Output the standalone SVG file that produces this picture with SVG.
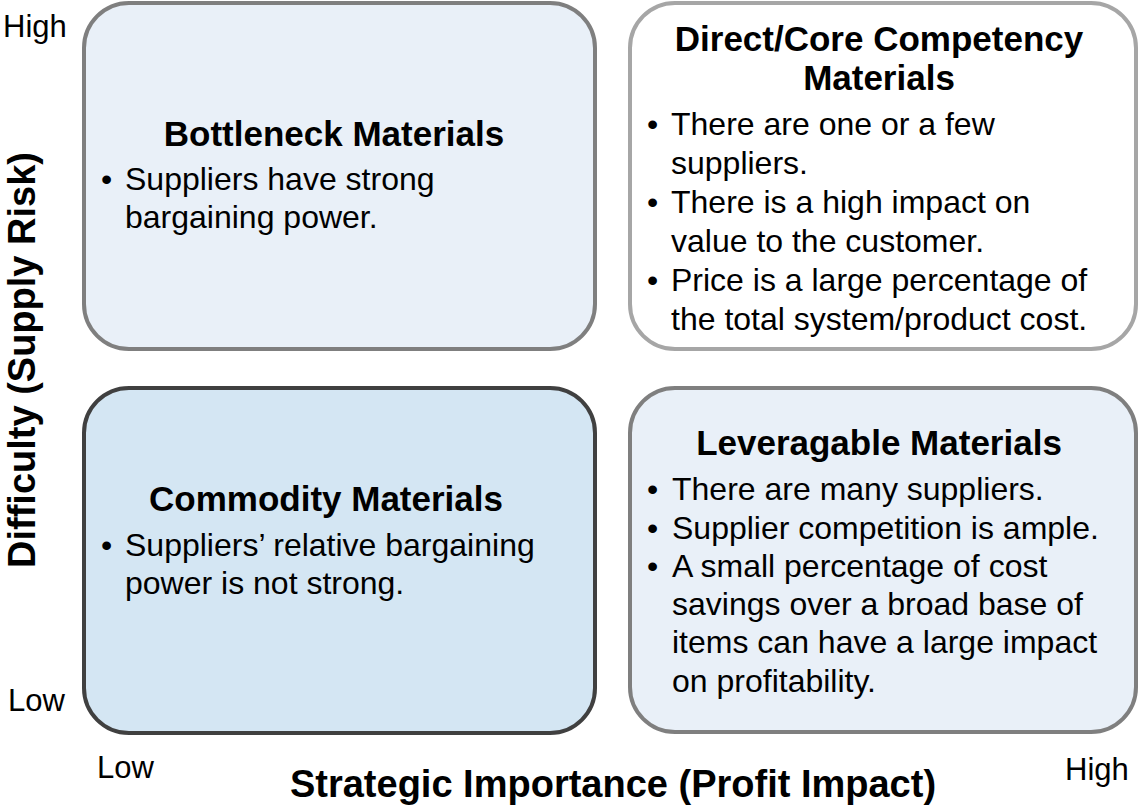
<svg xmlns="http://www.w3.org/2000/svg" width="1138" height="806" viewBox="0 0 1138 806">
<style>
text{font-family:"Liberation Sans",Arial,sans-serif;fill:#000}
.t{font-size:35px;font-weight:bold;text-anchor:middle}
.b{font-size:32px}
.ax{font-size:38px;font-weight:bold;text-anchor:middle}
.tick{font-size:31px}
.box{stroke-width:4}
</style>
<rect width="1138" height="806" fill="#fff"/>
<g id="axes">
<text class="ax" transform="translate(35,360) rotate(-90)">Difficulty (Supply Risk)</text>
<text class="ax" x="613" y="797">Strategic Importance (Profit Impact)</text>
<text class="tick" x="3" y="37">High</text>
<text class="tick" x="8" y="711">Low</text>
<text class="tick" x="97" y="778">Low</text>
<text class="tick" x="1065" y="780">High</text>
</g>
<g id="bottleneck">
<rect class="box" x="84" y="3" width="511" height="346" rx="45" fill="#e9f0f8" stroke="#7f7f7f"/>
<text class="t" x="334" y="146">Bottleneck Materials</text>
<text class="b" x="101" y="190">•</text>
<text class="b" x="125" y="190">Suppliers have strong<tspan x="125" dy="38">bargaining power.</tspan></text>
</g>
<g id="direct">
<rect class="box" x="630" y="3" width="506" height="346" rx="45" fill="#fff" stroke="#a6a6a6"/>
<text class="t" x="879" y="51">Direct/Core Competency<tspan x="879" dy="39">Materials</tspan></text>
<text class="b" x="647" y="135">•</text>
<text class="b" x="647" y="213">•</text>
<text class="b" x="647" y="291">•</text>
<text class="b" x="671" y="135">There are one or a few<tspan x="671" dy="39">suppliers.</tspan><tspan x="671" dy="39">There is a high impact on</tspan><tspan x="671" dy="39">value to the customer.</tspan><tspan x="671" dy="39">Price is a large percentage of</tspan><tspan x="671" dy="39">the total system/product cost.</tspan></text>
</g>
<g id="commodity">
<rect class="box" x="84" y="388" width="511" height="345" rx="45" fill="#d4e6f3" stroke="#404040"/>
<text class="t" x="326" y="511">Commodity Materials</text>
<text class="b" x="101" y="556">•</text>
<text class="b" x="125" y="556">Suppliers’ relative bargaining<tspan x="125" dy="38">power is not strong.</tspan></text>
</g>
<g id="leveragable">
<rect class="box" x="630" y="388" width="506" height="344" rx="45" fill="#e9f0f8" stroke="#7f7f7f"/>
<text class="t" x="879" y="455">Leveragable Materials</text>
<text class="b" x="647" y="500">•</text>
<text class="b" x="647" y="539">•</text>
<text class="b" x="647" y="577">•</text>
<text class="b" x="672" y="500">There are many suppliers.<tspan x="672" dy="39">Supplier competition is ample.</tspan><tspan x="672" dy="38">A small percentage of cost</tspan><tspan x="672" dy="38">savings over a broad base of</tspan><tspan x="672" dy="38">items can have a large impact</tspan><tspan x="672" dy="39">on profitability.</tspan></text>
</g>
<g id="connectors"></g>
</svg>
